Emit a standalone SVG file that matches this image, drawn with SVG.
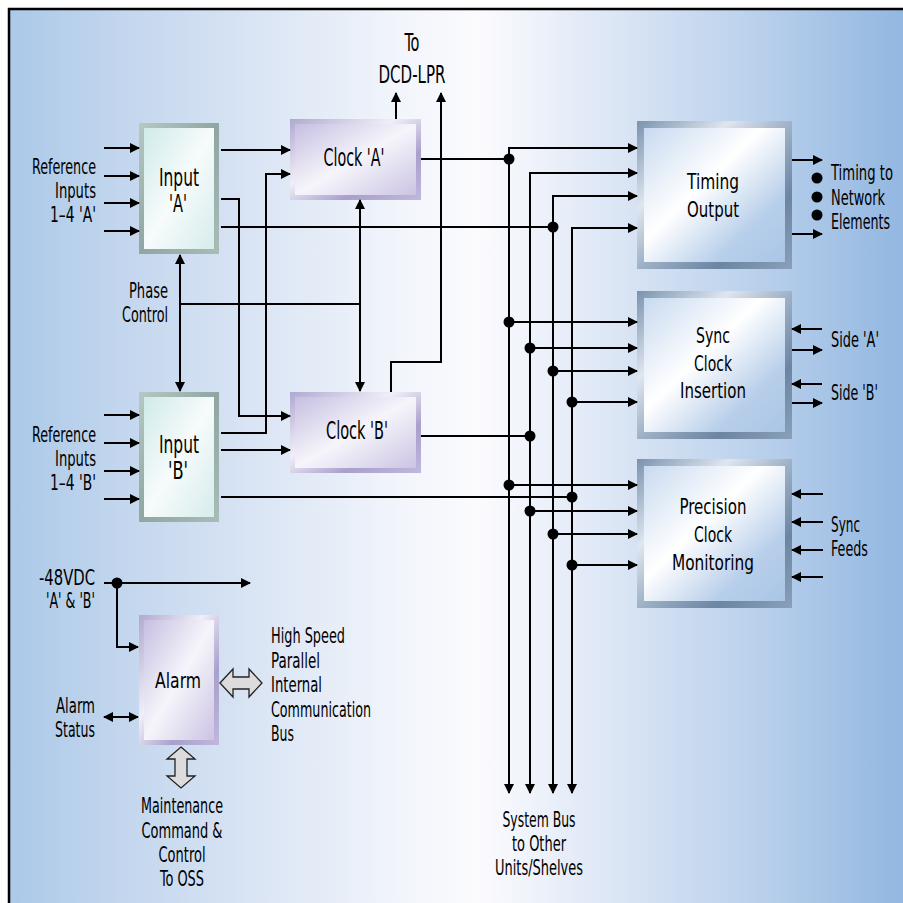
<svg xmlns="http://www.w3.org/2000/svg" width="903" height="903" viewBox="0 0 903 903">
<defs>
<linearGradient id="bg" gradientUnits="userSpaceOnUse" x1="9" y1="0" x2="903" y2="0">
<stop offset="0" stop-color="#abc9e8"/>
<stop offset="0.135" stop-color="#c4d7ee"/>
<stop offset="0.27" stop-color="#d9e4f4"/>
<stop offset="0.437" stop-color="#f2f5fb"/>
<stop offset="0.527" stop-color="#fbfbfe"/>
<stop offset="0.661" stop-color="#dfe8f6"/>
<stop offset="0.829" stop-color="#bcd2ec"/>
<stop offset="1" stop-color="#92b7e1"/>
</linearGradient>
<linearGradient id="frBlue" x1="0" y1="0" x2="1" y2="1">
<stop offset="0" stop-color="#7a92ae"/>
<stop offset="0.3" stop-color="#dfe6ee"/>
<stop offset="0.5" stop-color="#9fb2c7"/>
<stop offset="0.75" stop-color="#6c85a2"/>
<stop offset="1" stop-color="#8aa0b9"/>
</linearGradient>
<linearGradient id="faBlue" x1="0" y1="0" x2="1" y2="1">
<stop offset="0" stop-color="#c8daf0"/>
<stop offset="0.42" stop-color="#ffffff"/>
<stop offset="0.75" stop-color="#b8cfea"/>
<stop offset="1" stop-color="#a9c5e6"/>
</linearGradient>
<linearGradient id="frLav" x1="0" y1="0" x2="1" y2="1">
<stop offset="0" stop-color="#b0a8d0"/>
<stop offset="0.4" stop-color="#f0eef8"/>
<stop offset="0.7" stop-color="#a9a0cc"/>
<stop offset="1" stop-color="#c0b8dc"/>
</linearGradient>
<linearGradient id="faLav" x1="0" y1="0" x2="1" y2="1">
<stop offset="0" stop-color="#c6bfe1"/>
<stop offset="0.5" stop-color="#f6f5fb"/>
<stop offset="1" stop-color="#cbc4e3"/>
</linearGradient>
<linearGradient id="frGrn" x1="0" y1="0" x2="1" y2="1">
<stop offset="0" stop-color="#b8c8c4"/>
<stop offset="0.5" stop-color="#8fa6a2"/>
<stop offset="1" stop-color="#a9bdb8"/>
</linearGradient>
<linearGradient id="faGrn" x1="0" y1="0" x2="1" y2="1">
<stop offset="0" stop-color="#d0eaea"/>
<stop offset="0.5" stop-color="#f7fbfb"/>
<stop offset="1" stop-color="#d6ecec"/>
</linearGradient>
<marker id="ah" markerUnits="userSpaceOnUse" markerWidth="10" markerHeight="10" viewBox="0 0 10 10" refX="9" refY="5" orient="auto-start-reverse">
<path d="M0,0 L10,5 L0,10 z" fill="#000"/>
</marker>
<style>
text{font-family:"Liberation Sans Narrow","DejaVu Sans Condensed","Liberation Sans",sans-serif;font-size:21px;fill:#000;}
.nl{font-size:24px;}
.nr{font-size:22px;}
.c{text-anchor:middle;}
.e{text-anchor:end;}
.ln{fill:none;stroke:#000;stroke-width:2;}
.a{marker-end:url(#ah);}
.aa{marker-start:url(#ah);marker-end:url(#ah);}
.fat{fill:#dcdcdc;stroke:#222;stroke-width:1.3;stroke-linejoin:miter;}
</style>
</defs>
<rect x="9" y="9" width="900" height="900" fill="url(#bg)" stroke="#000" stroke-width="2.5"/>

<g id="n-inputA">
<rect x="139" y="123" width="80" height="131" fill="url(#frGrn)"/>
<rect x="144" y="128" width="70" height="121" fill="url(#faGrn)"/>
<text class="nl c" x="179" y="186" textLength="40" lengthAdjust="spacingAndGlyphs">Input</text>
<text class="nl c" x="178" y="212" textLength="18" lengthAdjust="spacingAndGlyphs">'A'</text>
</g>
<g id="n-inputB">
<rect x="139" y="392" width="80" height="130" fill="url(#frGrn)"/>
<rect x="144" y="397" width="70" height="120" fill="url(#faGrn)"/>
<text class="nl c" x="179" y="453" textLength="40" lengthAdjust="spacingAndGlyphs">Input</text>
<text class="nl c" x="178" y="479" textLength="20" lengthAdjust="spacingAndGlyphs">'B'</text>
</g>
<g id="n-clockA">
<rect x="290" y="119" width="131" height="81" fill="url(#frLav)"/>
<rect x="295" y="124" width="121" height="71" fill="url(#faLav)"/>
<text class="nl c" x="354" y="166" textLength="61" lengthAdjust="spacingAndGlyphs">Clock 'A'</text>
</g>
<g id="n-clockB">
<rect x="290" y="392" width="131" height="81" fill="url(#frLav)"/>
<rect x="295" y="397" width="121" height="71" fill="url(#faLav)"/>
<text class="nl c" x="357" y="439" textLength="62" lengthAdjust="spacingAndGlyphs">Clock 'B'</text>
</g>
<g id="n-timing">
<rect x="637" y="121" width="155" height="148" fill="url(#frBlue)"/>
<rect x="644" y="128" width="141" height="134" fill="url(#faBlue)"/>
<text class="nr c" x="713" y="189" textLength="52" lengthAdjust="spacingAndGlyphs">Timing</text>
<text class="nr c" x="713" y="217" textLength="52" lengthAdjust="spacingAndGlyphs">Output</text>
</g>
<g id="n-sync">
<rect x="637" y="291" width="155" height="148" fill="url(#frBlue)"/>
<rect x="644" y="298" width="141" height="134" fill="url(#faBlue)"/>
<text class="nr c" x="713" y="343" textLength="34" lengthAdjust="spacingAndGlyphs">Sync</text>
<text class="nr c" x="713" y="371" textLength="38" lengthAdjust="spacingAndGlyphs">Clock</text>
<text class="nr c" x="713" y="398" textLength="66" lengthAdjust="spacingAndGlyphs">Insertion</text>
</g>
<g id="n-precision">
<rect x="637" y="459" width="155" height="149" fill="url(#frBlue)"/>
<rect x="644" y="466" width="141" height="135" fill="url(#faBlue)"/>
<text class="nr c" x="713" y="514" textLength="67" lengthAdjust="spacingAndGlyphs">Precision</text>
<text class="nr c" x="713" y="542" textLength="38" lengthAdjust="spacingAndGlyphs">Clock</text>
<text class="nr c" x="713" y="570" textLength="82" lengthAdjust="spacingAndGlyphs">Monitoring</text>
</g>
<g id="n-alarm">
<rect x="139" y="615" width="80" height="130" fill="url(#frLav)"/>
<rect x="144" y="620" width="70" height="120" fill="url(#faLav)"/>
<text class="c" x="178" y="688" style="font-size:21px" textLength="46" lengthAdjust="spacingAndGlyphs">Alarm</text>
</g>

<g id="connectors">
<path class="ln a" d="M104,148 H139"/>
<path class="ln a" d="M104,176 H139"/>
<path class="ln a" d="M104,203 H139"/>
<path class="ln a" d="M104,231 H139"/>
<path class="ln a" d="M104,415 H139"/>
<path class="ln a" d="M104,443 H139"/>
<path class="ln a" d="M104,471 H139"/>
<path class="ln a" d="M104,499 H139"/>
<path class="ln a" d="M221,150 H290"/>
<path class="ln a" d="M221,199 H239 V416 H290"/>
<path class="ln a" d="M221,433 H266 V174 H290"/>
<path class="ln a" d="M221,450 H290"/>
<path class="ln" d="M221,227 H553"/>
<path class="ln" d="M221,497 H572"/>
<path class="ln a" d="M396,119 V93"/>
<path class="ln a" d="M391,392 V362 H441 V93"/>
<path class="ln aa" d="M360,200 V391"/>
<path class="ln aa" d="M180,255 V391"/>
<path class="ln" d="M180,304 H360"/>
<path class="ln" d="M421,159 H509"/>
<path class="ln" d="M421,436 H530"/>
<path class="ln aa" d="M509,793 V148 H637"/>
<path class="ln aa" d="M530,793 V173 H637"/>
<path class="ln aa" d="M553,793 V196 H637"/>
<path class="ln aa" d="M572,793 V228 H637"/>
<path class="ln a" d="M509,322 H637"/>
<path class="ln a" d="M530,348 H637"/>
<path class="ln a" d="M553,371 H637"/>
<path class="ln a" d="M572,402 H637"/>
<path class="ln a" d="M509,485 H637"/>
<path class="ln a" d="M530,511 H637"/>
<path class="ln a" d="M553,534 H637"/>
<path class="ln a" d="M572,565 H637"/>
<path class="ln a" d="M792,160 H822"/>
<path class="ln a" d="M792,234 H822"/>
<path class="ln a" d="M822,329 H792"/>
<path class="ln a" d="M792,350 H822"/>
<path class="ln a" d="M822,384 H792"/>
<path class="ln a" d="M792,403 H822"/>
<path class="ln a" d="M823,494 H792"/>
<path class="ln a" d="M823,522 H792"/>
<path class="ln a" d="M823,550 H792"/>
<path class="ln a" d="M823,577 H792"/>
<path class="ln a" d="M104,583 H250"/>
<path class="ln a" d="M117,583 V647 H138"/>
<path class="ln aa" d="M104,717 H138"/>
<polygon class="fat" points="220,683 233,669 233,677 249,677 249,669 262,683 249,697 249,689 233,689 233,697"/>
<polygon class="fat" points="181,747 195,759 187,759 187,776 195,776 181,788 167,776 175,776 175,759 167,759"/>
<g fill="#000">
<circle cx="509" cy="159" r="5.5"/>
<circle cx="553" cy="227" r="5.5"/>
<circle cx="530" cy="436" r="5.5"/>
<circle cx="509" cy="322" r="5.5"/>
<circle cx="530" cy="348" r="5.5"/>
<circle cx="553" cy="371" r="5.5"/>
<circle cx="572" cy="402" r="5.5"/>
<circle cx="509" cy="485" r="5.5"/>
<circle cx="572" cy="497" r="5.5"/>
<circle cx="530" cy="511" r="5.5"/>
<circle cx="553" cy="534" r="5.5"/>
<circle cx="572" cy="565" r="5.5"/>
<circle cx="117" cy="583" r="5.5"/>
<circle cx="817" cy="178" r="5.5"/>
<circle cx="817" cy="197" r="5.5"/>
<circle cx="817" cy="215" r="5.5"/>
</g>
</g>

<g id="labels">
<text class="e" x="96" y="174" textLength="64" lengthAdjust="spacingAndGlyphs">Reference</text>
<text class="e" x="96" y="198" textLength="41" lengthAdjust="spacingAndGlyphs">Inputs</text>
<text class="e" x="96" y="222" textLength="46" lengthAdjust="spacingAndGlyphs">1–4 'A'</text>
<text class="e" x="168" y="298" textLength="39" lengthAdjust="spacingAndGlyphs">Phase</text>
<text class="e" x="168" y="322" textLength="46" lengthAdjust="spacingAndGlyphs">Control</text>
<text class="e" x="96" y="442" textLength="64" lengthAdjust="spacingAndGlyphs">Reference</text>
<text class="e" x="96" y="466" textLength="41" lengthAdjust="spacingAndGlyphs">Inputs</text>
<text class="e" x="96" y="490" textLength="46" lengthAdjust="spacingAndGlyphs">1–4 'B'</text>
<text class="e" x="95" y="585" textLength="56" lengthAdjust="spacingAndGlyphs">-48VDC</text>
<text class="e" x="95" y="608" textLength="49" lengthAdjust="spacingAndGlyphs">'A' &amp; 'B'</text>
<text class="e" x="95" y="713" textLength="39" lengthAdjust="spacingAndGlyphs">Alarm</text>
<text class="e" x="95" y="737" textLength="40" lengthAdjust="spacingAndGlyphs">Status</text>
<text class="c" x="412" y="51" style="font-size:24px" textLength="15" lengthAdjust="spacingAndGlyphs">To</text>
<text class="c" x="412" y="83" style="font-size:24px" textLength="67" lengthAdjust="spacingAndGlyphs">DCD-LPR</text>
<text x="831" y="180" textLength="62" lengthAdjust="spacingAndGlyphs">Timing to</text>
<text x="831" y="205" textLength="54" lengthAdjust="spacingAndGlyphs">Network</text>
<text x="831" y="229" textLength="59" lengthAdjust="spacingAndGlyphs">Elements</text>
<text x="831" y="347" textLength="48" lengthAdjust="spacingAndGlyphs">Side 'A'</text>
<text x="831" y="400" textLength="47" lengthAdjust="spacingAndGlyphs">Side 'B'</text>
<text x="831" y="532" textLength="29" lengthAdjust="spacingAndGlyphs">Sync</text>
<text x="831" y="556" textLength="37" lengthAdjust="spacingAndGlyphs">Feeds</text>
<text x="271" y="643" textLength="74" lengthAdjust="spacingAndGlyphs">High Speed</text>
<text x="271" y="668" textLength="49" lengthAdjust="spacingAndGlyphs">Parallel</text>
<text x="271" y="692" textLength="51" lengthAdjust="spacingAndGlyphs">Internal</text>
<text x="271" y="717" textLength="100" lengthAdjust="spacingAndGlyphs">Communication</text>
<text x="271" y="741" textLength="23" lengthAdjust="spacingAndGlyphs">Bus</text>
<text class="c" x="182" y="813" textLength="82" lengthAdjust="spacingAndGlyphs">Maintenance</text>
<text class="c" x="182" y="838" textLength="81" lengthAdjust="spacingAndGlyphs">Command &amp;</text>
<text class="c" x="182" y="862" textLength="47" lengthAdjust="spacingAndGlyphs">Control</text>
<text class="c" x="182" y="886" textLength="44" lengthAdjust="spacingAndGlyphs">To OSS</text>
<text class="c" x="539" y="827" textLength="73" lengthAdjust="spacingAndGlyphs">System Bus</text>
<text class="c" x="539" y="851" textLength="54" lengthAdjust="spacingAndGlyphs">to Other</text>
<text class="c" x="539" y="875" textLength="88" lengthAdjust="spacingAndGlyphs">Units/Shelves</text>
</g>
</svg>
